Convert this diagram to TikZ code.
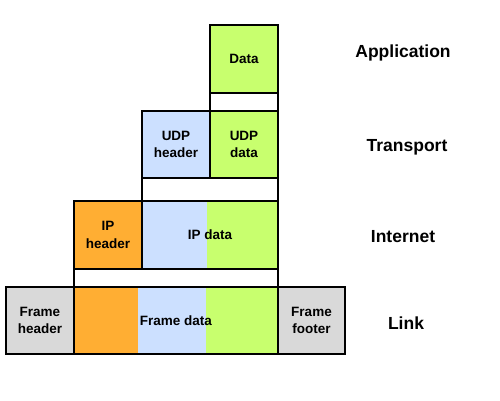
\documentclass[tikz,border=0pt]{standalone}
\usepackage{fontspec}
\setmainfont{Liberation Sans}
\definecolor{grn}{HTML}{C8FF6E}
\definecolor{lblue}{HTML}{CCE0FF}
\definecolor{orng}{HTML}{FFAE33}
\definecolor{lgray}{HTML}{D9D9D9}
\begin{document}
\begin{tikzpicture}[x=1pt,y=-1pt,
  box/.style={draw=black,line width=2pt,inner sep=0pt,align=center,
    font=\fontsize{13.5}{17.7}\selectfont\bfseries},
  layer/.style={font=\fontsize{17.5}{20}\selectfont\bfseries,inner sep=0pt}]
\useasboundingbox[fill=white] (0,0) rectangle (500,400);
% stripes
\fill[lblue] (142,201) rectangle (207,269);
\fill[grn] (207,201) rectangle (278,269);
\fill[orng] (74,287) rectangle (138,354);
\fill[lblue] (138,287) rectangle (206,354);
\fill[grn] (206,287) rectangle (278,354);
% application
\node[box,fill=grn,minimum width=68pt,minimum height=68pt] (data) at (244,59) {Data};
\node[box,minimum width=68pt,minimum height=18pt] (gap1) at (244,102) {};
% transport
\node[box,fill=lblue,minimum width=68pt,minimum height=67pt] (udph) at (176,144.5) {UDP\\header};
\node[box,fill=grn,minimum width=68pt,minimum height=67pt] (udpd) at (244,144.5) {UDP\\data};
\node[box,minimum width=136pt,minimum height=23pt] (gap2) at (210,189.5) {};
% internet
\node[box,fill=orng,minimum width=68pt,minimum height=68pt] (iph) at (108,235) {IP\\header};
\node[box,minimum width=136pt,minimum height=68pt] (ipd) at (210,235) {IP data};
\node[box,minimum width=204pt,minimum height=18pt] (gap3) at (176,278) {};
% link
\node[box,fill=lgray,minimum width=68pt,minimum height=67pt] (fh) at (40,320.5) {Frame\\header};
\node[box,minimum width=204pt,minimum height=67pt] (fd) at (176,320.5) {Frame data};
\node[box,fill=lgray,minimum width=67pt,minimum height=67pt] (ff) at (311.5,320.5) {Frame\\footer};
% layer names
\node[layer] (lapp) at (403,53) {Application};
\node[layer] (ltr) at (407,147) {Transport};
\node[layer] (lin) at (403,237) {Internet};
\node[layer] (llk) at (406,323) {Link};
\end{tikzpicture}
\end{document}
